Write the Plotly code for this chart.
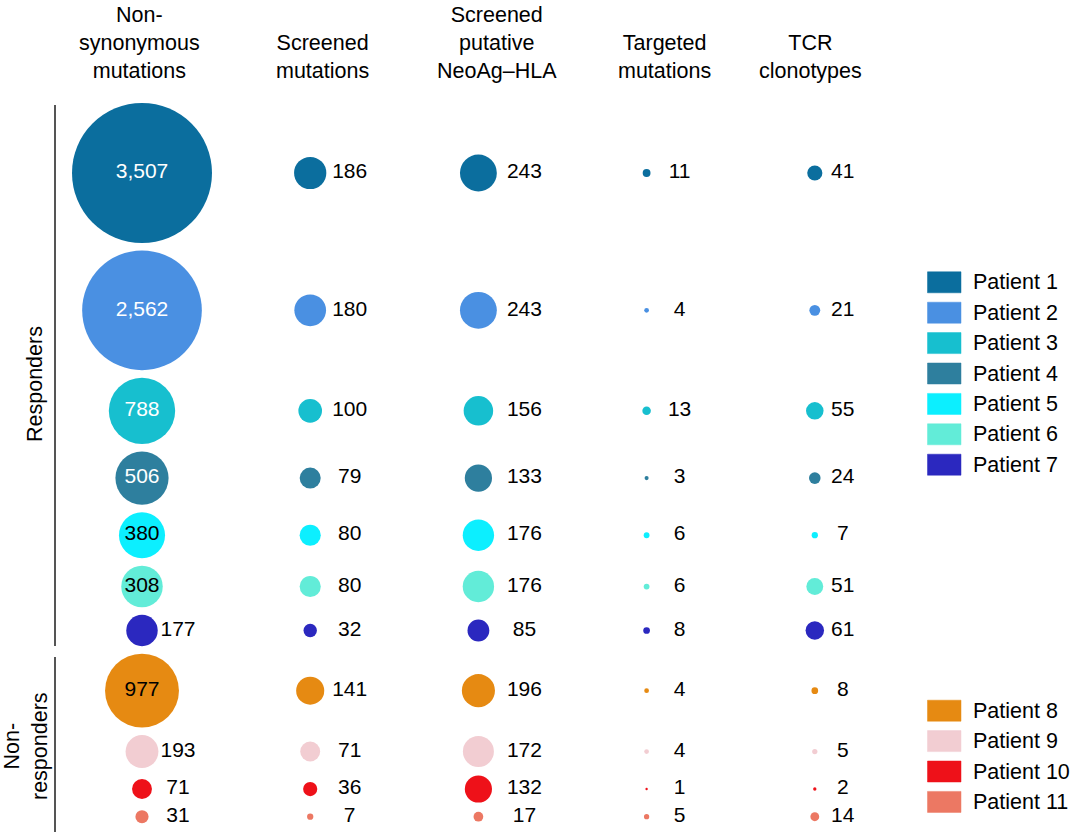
import math
import plotly.graph_objects as go

# ---------------- data ----------------
patients = [f"Patient {i}" for i in range(1, 12)]
groups = ["Responders"] * 7 + ["Non-responders"] * 4
columns = ["Non-<br>synonymous<br>mutations", "Screened<br>mutations",
           "Screened<br>putative<br>NeoAg\u2013HLA", "Targeted<br>mutations",
           "TCR<br>clonotypes"]
nonsyn = [3507, 2562, 788, 506, 380, 308, 177, 977, 193, 71, 31]
screened = [186, 180, 100, 79, 80, 80, 32, 141, 71, 36, 7]
neoag_hla = [243, 243, 156, 133, 176, 176, 85, 196, 172, 132, 17]
targeted = [11, 4, 13, 3, 6, 6, 8, 4, 4, 1, 5]
tcr = [41, 21, 55, 24, 7, 51, 61, 8, 5, 2, 14]
series = [nonsyn, screened, neoag_hla, targeted, tcr]

# ---------------- styles / layout ----------------
colors = ["#0b6e9e", "#4a90e2", "#17bfcf", "#2e7f9e", "#0cefff", "#62ecd8",
          "#2b28bf", "#e68a12", "#f2cdd2", "#ee1119", "#ec7863"]
inside_text_color = ["white", "white", "white", "white", "black", "black",
                     None, "black", None, None, None]
W, H = 1080, 839
FONT = "Liberation Sans, Arial, Helvetica, sans-serif"
FS_NUM = 21
FS_TXT = 21.5
D_MAX = 140.0                 # px diameter of the largest bubble
V_MAX = max(nonsyn)
COL0_PX, COL_STEP_PX = 142.0, 168.2
LABEL_OFF_PX = [36, 39.5, 46, 33, 28]
HEADER_X_PX = [139, 322, 497, 664, 810]
FIRST_ROW_PX, ROW_PAD = 173.0, 7.5


def diam(v):
    return D_MAX * math.sqrt(v / V_MAX)


# row positions derived from bubble radii (pixel units on y axis)
row_r = [max(diam(s[i]) for s in series) / 2 for i in range(len(patients))]
row_y = [FIRST_ROW_PX]
for i in range(1, len(patients)):
    row_y.append(row_y[-1] + row_r[i - 1] + row_r[i] + ROW_PAD)

fig = go.Figure()
for c, vals in enumerate(series):
    fig.add_trace(go.Scatter(
        x=[c] * len(vals), y=row_y, mode="markers",
        marker=dict(size=[diam(v) for v in vals], sizemode="diameter",
                    color=colors, opacity=1, line=dict(width=0)),
        hoverinfo="skip", showlegend=False))
    off = LABEL_OFF_PX[c] / COL_STEP_PX
    xs, ys, ts, xin, yin, tin, cin = [], [], [], [], [], [], []
    for i, v in enumerate(vals):
        if c == 0 and inside_text_color[i] is not None:
            xin.append(c); yin.append(row_y[i]); tin.append(f"{v:,}")
            cin.append(inside_text_color[i])
        else:
            xs.append(c + off); ys.append(row_y[i]); ts.append(f"{v:,}")
    fig.add_trace(go.Scatter(x=xs, y=ys, mode="text", text=ts,
                             textposition="middle center",
                             textfont=dict(family=FONT, size=FS_NUM, color="black"),
                             hoverinfo="skip", showlegend=False))
    if xin:
        fig.add_trace(go.Scatter(x=xin, y=yin, mode="text", text=tin,
                                 textposition="middle center",
                                 textfont=dict(family=FONT, size=FS_NUM, color=cin),
                                 hoverinfo="skip", showlegend=False))

shapes, annotations = [], []


def px(x):
    return x / W


def py(y):
    return 1 - y / H


# column headers
for c, name in enumerate(columns):
    annotations.append(dict(x=px(HEADER_X_PX[c]), y=py(85), xref="paper", yref="paper",
                            text=name, showarrow=False, xanchor="center",
                            yanchor="bottom", align="center",
                            font=dict(family=FONT, size=FS_TXT, color="black")))

# group brackets
for (y0, y1) in [(105, 646), (657, 832)]:
    shapes.append(dict(type="line", xref="paper", yref="paper",
                       x0=px(55), x1=px(55), y0=py(y0), y1=py(y1),
                       line=dict(color="#555555", width=2)))
annotations.append(dict(x=px(35), y=py(384), xref="paper", yref="paper",
                        text="Responders", showarrow=False, textangle=-90,
                        xanchor="center", yanchor="middle",
                        font=dict(family=FONT, size=FS_TXT, color="black")))
annotations.append(dict(x=px(26), y=py(746), xref="paper", yref="paper",
                        text="Non-<br>responders", showarrow=False, textangle=-90,
                        xanchor="center", yanchor="middle", align="center",
                        font=dict(family=FONT, size=FS_TXT, color="black")))

# custom legends
legend_start = {0: 282.3, 7: 710.7}
LEG_STEP = 30.4
for i, p in enumerate(patients):
    base = 0 if i < 7 else 7
    yc = legend_start[base] + (i - base) * LEG_STEP
    shapes.append(dict(type="rect", xref="paper", yref="paper",
                       x0=px(927.5), x1=px(961), y0=py(yc - 10.5), y1=py(yc + 10.5),
                       fillcolor=colors[i], line=dict(color=colors[i], width=0.5)))
    annotations.append(dict(x=px(971), y=py(yc), xref="paper", yref="paper",
                            text=p, showarrow=False, xanchor="left", yanchor="middle",
                            font=dict(family=FONT, size=FS_TXT, color="black")))

fig.update_layout(
    width=W, height=H, autosize=False,
    margin=dict(l=0, r=0, t=0, b=0),
    paper_bgcolor="white", plot_bgcolor="white",
    xaxis=dict(range=[-COL0_PX / COL_STEP_PX, (W - COL0_PX) / COL_STEP_PX],
               visible=False, fixedrange=True),
    yaxis=dict(range=[H, 0], visible=False, fixedrange=True),
    shapes=shapes, annotations=annotations, showlegend=False,
)
fig.write_html("out.html",
               config={"displayModeBar": False, "staticPlot": True},
               post_script="document.body.style.margin='0px';"
                           "document.body.style.overflow='hidden';")
